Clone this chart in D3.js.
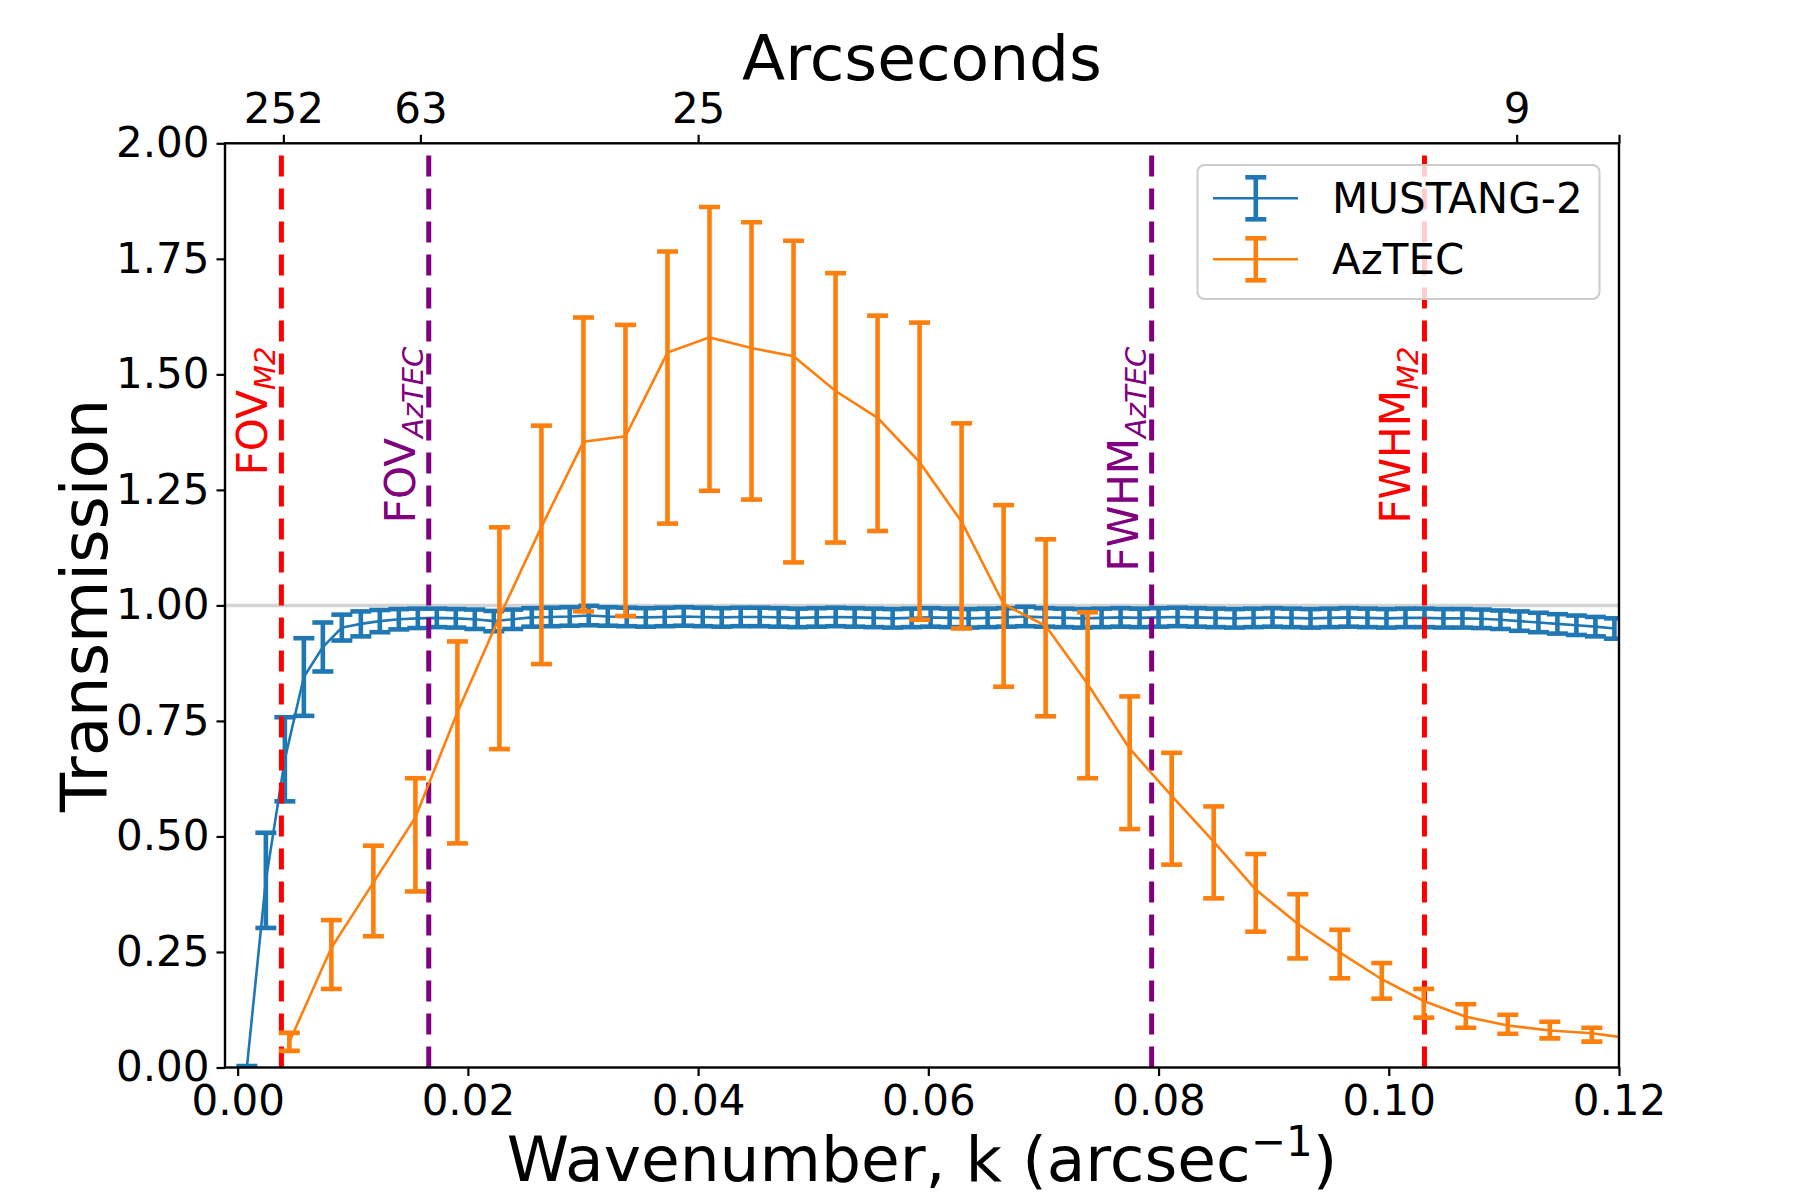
<!DOCTYPE html>
<html>
<head>
<meta charset="utf-8">
<script src="https://cdn.jsdelivr.net/npm/d3@7"></script>
<style>
  body { margin: 0; background: #ffffff; }
  text { font-family: "DejaVu Sans", sans-serif; }
</style>
</head>
<body>
<div id="chart"></div>
<script>
// transmission of MUSTANG-2 and AzTEC versus wavenumber

// MUSTANG-2 points
var blueK = [0.0008, 0.00245, 0.0041, 0.00575, 0.0074, 0.00905, 0.0107, 0.01235, 0.014, 0.01565,
             0.0173, 0.01895, 0.0206, 0.02225, 0.0239, 0.02555, 0.0272, 0.02885, 0.0305, 0.03215,
             0.0338, 0.03545, 0.0371, 0.03875, 0.0404, 0.04205, 0.0437, 0.04535, 0.047, 0.04865,
             0.0503, 0.05195, 0.0536, 0.05525, 0.0569, 0.05855, 0.0602, 0.06185, 0.0635, 0.06515,
             0.0668, 0.06845, 0.0701, 0.07175, 0.0734, 0.07505, 0.0767, 0.07835, 0.08, 0.08165,
             0.0833, 0.08495, 0.0866, 0.08825, 0.0899, 0.09155, 0.0932, 0.09485, 0.0965, 0.09815,
             0.0998, 0.10145, 0.1031, 0.10475, 0.1064, 0.10805, 0.1097, 0.11135, 0.113, 0.11465,
             0.1163, 0.11795, 0.1196];
var blueT = [0.000, 0.405, 0.667, 0.845, 0.910, 0.952, 0.960, 0.966, 0.970, 0.972,
             0.973, 0.972, 0.970, 0.966, 0.970, 0.974, 0.975, 0.976, 0.978, 0.976,
             0.975, 0.974, 0.975, 0.976, 0.975, 0.974, 0.975, 0.975, 0.974, 0.973,
             0.974, 0.975, 0.974, 0.973, 0.972, 0.973, 0.974, 0.973, 0.972, 0.973,
             0.974, 0.976, 0.974, 0.973, 0.972, 0.973, 0.974, 0.973, 0.974, 0.975,
             0.974, 0.973, 0.972, 0.973, 0.974, 0.973, 0.972, 0.973, 0.974, 0.973,
             0.972, 0.973, 0.973, 0.972, 0.972, 0.971, 0.969, 0.966, 0.963, 0.960,
             0.957, 0.954, 0.950];
var blueErr = [0.003, 0.103, 0.091, 0.084, 0.053, 0.028, 0.027, 0.024, 0.022, 0.021,
               0.020, 0.020, 0.021, 0.022, 0.021, 0.020, 0.020, 0.020, 0.021, 0.020,
               0.020, 0.020, 0.020, 0.020, 0.020, 0.020, 0.020, 0.020, 0.020, 0.020,
               0.020, 0.020, 0.020, 0.020, 0.020, 0.020, 0.020, 0.020, 0.020, 0.020,
               0.020, 0.021, 0.020, 0.020, 0.020, 0.020, 0.020, 0.020, 0.020, 0.020,
               0.020, 0.020, 0.020, 0.020, 0.020, 0.020, 0.020, 0.020, 0.020, 0.020,
               0.020, 0.020, 0.020, 0.020, 0.020, 0.020, 0.020, 0.021, 0.021, 0.021,
               0.021, 0.021, 0.022];

// AzTEC points (asymmetric errors, lower and upper ends)
var orangeK = [0.00449, 0.00814, 0.01179, 0.01544, 0.01909, 0.02274, 0.02639, 0.03004, 0.03369, 0.03734,
               0.04099, 0.04464, 0.04829, 0.05194, 0.05559, 0.05924, 0.06289, 0.06654, 0.07019, 0.07384,
               0.07749, 0.08114, 0.08479, 0.08844, 0.09209, 0.09574, 0.09939, 0.10304, 0.10669, 0.11034,
               0.11399, 0.11764, 0.12129];
var orangeT = [0.055, 0.259, 0.400, 0.541, 0.769, 0.975, 1.170, 1.354, 1.366, 1.547,
               1.580, 1.557, 1.539, 1.464, 1.406, 1.310, 1.181, 1.003, 0.956, 0.830,
               0.690, 0.588, 0.489, 0.385, 0.311, 0.249, 0.191, 0.144, 0.110, 0.091,
               0.080, 0.074, 0.062];
var orangeLo = [0.036, 0.170, 0.284, 0.381, 0.485, 0.689, 0.873, 0.987, 0.977, 1.177,
                1.248, 1.229, 1.093, 1.136, 1.161, 0.969, 0.950, 0.824, 0.760, 0.626,
                0.516, 0.439, 0.366, 0.294, 0.236, 0.193, 0.149, 0.108, 0.086, 0.073,
                0.063, 0.056, 0.049];
var orangeHi = [0.075, 0.319, 0.480, 0.626, 0.922, 1.169, 1.389, 1.623, 1.607, 1.766,
                1.862, 1.829, 1.789, 1.719, 1.627, 1.612, 1.394, 1.217, 1.143, 0.985,
                0.803, 0.681, 0.565, 0.462, 0.375, 0.298, 0.226, 0.170, 0.137, 0.114,
                0.099, 0.086, 0.075];

// marker lines (FOV and FWHM)
var markK = [0.0038, 0.0166, 0.0794, 0.1031];
var markMain = ["FOV", "FOV", "FWHM", "FWHM"];
var markSub = ["M2", "AzTEC", "AzTEC", "M2"];

// ticks
var xTicks = [0, 0.02, 0.04, 0.06, 0.08, 0.10, 0.12];
var yTicks = [0, 0.25, 0.5, 0.75, 1.0, 1.25, 1.5, 1.75, 2.0];
var topLabels = ["252", "63", "25", "9", ""];
var topTickK = [1 / 252, 1 / 63, 1 / 25, 1 / 9, 0.12];

var seriesNames = ["MUSTANG-2", "AzTEC"];
var colors = {"MUSTANG-2": "#1f77b4", "AzTEC": "#ff7f0e", "M2": "#ff0000", "AzTEC_mark": "#800080"};

// set the dimensions of the plot area
var W = 1800, H = 1200;
var plot = {left: 225, top: 143.3, right: 1619, bottom: 1067.5};

var x = d3.scaleLinear()
          .domain([-0.0011, 0.12])
          .range([plot.left, plot.right]);
var y = d3.scaleLinear()
          .domain([0, 2])
          .range([plot.bottom, plot.top]);

var svg = d3.select("#chart").append("svg")
    .attr("width", W)
    .attr("height", H);

svg.append("defs").append("clipPath")
    .attr("id", "clip")
  .append("rect")
    .attr("x", plot.left)
    .attr("y", plot.top)
    .attr("width", plot.right - plot.left)
    .attr("height", plot.bottom - plot.top);

var body = svg.append("g").attr("clip-path", "url(#clip)");

// light grey line at transmission 1
body.append("line")
    .attr("x1", plot.left).attr("x2", plot.right)
    .attr("y1", y(1)).attr("y2", y(1))
    .attr("stroke", "#d3d3d3")
    .attr("stroke-width", 3.5);

// draws one error bar series
function drawSeries(g, ks, vals, lows, highs, color) {
  var pts = ks.map(function(k, i) { return {k: k, t: vals[i], lo: lows[i], hi: highs[i]}; });

  var line = d3.line()
      .x(function(d) { return x(d.k); })
      .y(function(d) { return y(d.t); });

  g.append("path")
      .datum(pts)
      .attr("d", line)
      .attr("fill", "none")
      .attr("stroke", color)
      .attr("stroke-width", 2.6);

  var bars = g.selectAll(".bar")
      .data(pts)
    .enter().append("g");

  bars.append("line")
      .attr("x1", function(d) { return x(d.k); })
      .attr("x2", function(d) { return x(d.k); })
      .attr("y1", function(d) { return y(d.lo); })
      .attr("y2", function(d) { return y(d.hi); })
      .attr("stroke", color)
      .attr("stroke-width", 4.6);

  ["lo", "hi"].forEach(function(end) {
    bars.append("line")
        .attr("x1", function(d) { return x(d.k) - 10.5; })
        .attr("x2", function(d) { return x(d.k) + 10.5; })
        .attr("y1", function(d) { return y(d[end]); })
        .attr("y2", function(d) { return y(d[end]); })
        .attr("stroke", color)
        .attr("stroke-width", 4.6);
  });
}

// MUSTANG-2
drawSeries(body, blueK, blueT,
           blueT.map(function(v, i) { return v - blueErr[i]; }),
           blueT.map(function(v, i) { return v + blueErr[i]; }),
           colors["MUSTANG-2"]);

// dashed marker lines, drawn from the bottom up
markK.forEach(function(k, i) {
  var c = markSub[i] == "M2" ? colors["M2"] : colors["AzTEC_mark"];
  body.append("line")
      .attr("x1", x(k)).attr("x2", x(k))
      .attr("y1", plot.bottom).attr("y2", plot.top)
      .attr("stroke", c)
      .attr("stroke-width", 5)
      .attr("stroke-dasharray", "21,12");

  var t = svg.append("text")
      .attr("transform", "translate(" + (x(k) - 14) + "," + y(1.56) + ") rotate(-90)")
      .attr("text-anchor", "end")
      .attr("fill", c)
      .style("font-size", "42px");
  t.append("tspan").text(markMain[i]);
  t.append("tspan")
      .attr("dy", 8)
      .style("font-size", "29px")
      .style("font-style", "italic")
      .text(markSub[i]);
});

// AzTEC
drawSeries(body, orangeK, orangeT, orangeLo, orangeHi, colors["AzTEC"]);

// frame
svg.append("rect")
    .attr("x", plot.left).attr("y", plot.top)
    .attr("width", plot.right - plot.left)
    .attr("height", plot.bottom - plot.top)
    .attr("fill", "none")
    .attr("stroke", "#000")
    .attr("stroke-width", 2.4);

// axes
var xAxis = d3.axisBottom(x).tickValues(xTicks).tickFormat(d3.format(".2f"))
    .tickSize(8.5).tickSizeOuter(0).tickPadding(9);
var yAxis = d3.axisLeft(y).tickValues(yTicks).tickFormat(d3.format(".2f"))
    .tickSize(8.5).tickSizeOuter(0).tickPadding(7);
var topAxis = d3.axisTop(x).tickValues(topTickK)
    .tickFormat(function(d, i) { return topLabels[i]; })
    .tickSize(8.5).tickSizeOuter(0).tickPadding(12);

function styleAxis(g) {
  g.select(".domain").remove();
  g.selectAll(".tick line").attr("stroke", "#000").attr("stroke-width", 2.2);
  g.selectAll(".tick text")
      .attr("fill", "#000")
      .style("font-size", "42px")
      .style("font-family", "'DejaVu Sans', sans-serif");
}

svg.append("g")
    .attr("transform", "translate(0," + plot.bottom + ")")
    .call(xAxis)
    .call(styleAxis);

svg.append("g")
    .attr("transform", "translate(" + plot.left + ",0)")
    .call(yAxis)
    .call(styleAxis);

svg.append("g")
    .attr("transform", "translate(0," + plot.top + ")")
    .call(topAxis)
    .call(styleAxis);

// axis titles
var midX = (plot.left + plot.right) / 2;

svg.append("text")
    .attr("x", midX).attr("y", 80)
    .attr("text-anchor", "middle")
    .style("font-size", "63px")
    .text("Arcseconds");

var xl = svg.append("text")
    .attr("x", midX).attr("y", 1181)
    .attr("text-anchor", "middle")
    .style("font-size", "63px");
xl.append("tspan").text("Wavenumber, k (arcsec");
xl.append("tspan").attr("dy", -25).style("font-size", "42px").text("\u22121");
xl.append("tspan").attr("dy", 25).text(")");

svg.append("text")
    .attr("transform", "translate(107," + ((plot.top + plot.bottom) / 2) + ") rotate(-90)")
    .attr("text-anchor", "middle")
    .style("font-size", "64px")
    .text("Transmission");

// legend
var legend = svg.append("g");

legend.append("rect")
    .attr("x", 1197.5).attr("y", 165)
    .attr("width", 402).attr("height", 134)
    .attr("rx", 7)
    .attr("fill", "#fff")
    .attr("fill-opacity", 0.8)
    .attr("stroke", "#cccccc")
    .attr("stroke-width", 2);

seriesNames.forEach(function(name, i) {
  var ly = 198.3 + i * 61;
  var c = colors[name];
  var item = legend.append("g");
  item.append("line")
      .attr("x1", 1213).attr("x2", 1298)
      .attr("y1", ly).attr("y2", ly)
      .attr("stroke", c).attr("stroke-width", 2.6);
  item.append("line")
      .attr("x1", 1255.8).attr("x2", 1255.8)
      .attr("y1", ly - 21).attr("y2", ly + 21)
      .attr("stroke", c).attr("stroke-width", 4.6);
  [-21, 21].forEach(function(off) {
    item.append("line")
        .attr("x1", 1245.3).attr("x2", 1266.3)
        .attr("y1", ly + off).attr("y2", ly + off)
        .attr("stroke", c).attr("stroke-width", 4.6);
  });
  item.append("text")
      .attr("x", 1332).attr("y", ly + 15)
      .style("font-size", "42px")
      .text(name);
});
</script>
</body>
</html>
